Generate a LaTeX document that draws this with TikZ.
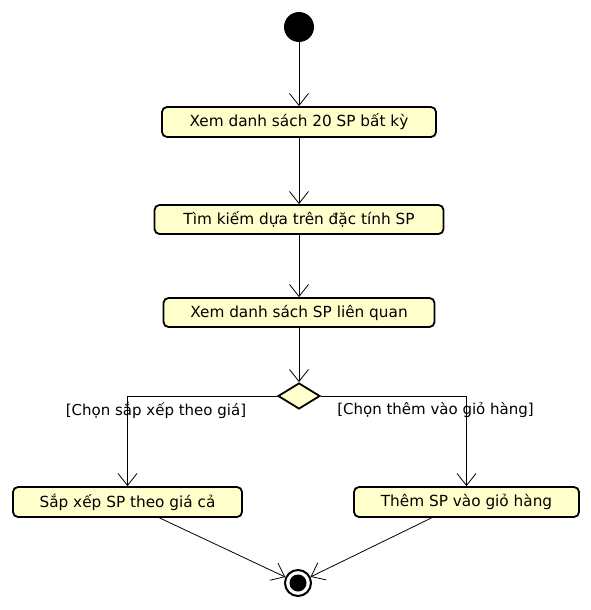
\documentclass[tikz,border=0pt]{standalone}
\usepackage{fontspec}
\setmainfont{DejaVu Sans}
\usetikzlibrary{shapes.geometric,arrows.meta}
\definecolor{actfill}{RGB}{255,255,204}
\tikzset{
  action/.style={draw, line width=1.8pt, rounded corners=5pt, fill=actfill,
    minimum height=30pt, inner sep=0pt, font=\fontsize{15.3}{17}\selectfont},
  flow/.style={line width=0.8pt, -{Straight Barb[length=12pt,width=19pt,line width=0.8pt]}},
  guard/.style={font=\fontsize{15}{17}\selectfont, inner sep=0pt}
}
\begin{document}
\begin{tikzpicture}[x=1pt,y=-1pt]
		\useasboundingbox (0,0) rectangle (590,610);
		
		% Start and end
		\node[circle, fill=black, minimum size=30pt, inner sep=0pt] (start) at (299,27) {};
		\node[circle, draw, line width=2pt, minimum size=26pt, inner sep=0pt] (final) at (298,583) {};
		\fill (final.center) circle (8.5);
		
		% Actions
		\node[action, minimum width=274pt] (listany) at (299,122) {Xem danh sách 20 SP bất kỳ};
		\node[action, minimum width=289pt, minimum height=29pt] (search) at (299,219.5) {Tìm kiếm dựa trên đặc tính SP};
		\node[action, minimum width=271pt, minimum height=29pt] (related) at (299,312.5) {Xem danh sách SP liên quan};
		\node[diamond, draw, line width=1.8pt, fill=actfill, minimum width=42pt, minimum height=26pt, inner sep=0pt] (choice) at (299,396) {};
		\node[action, minimum width=229pt] (sortprice) at (127.5,502) {Sắp xếp SP theo giá cả};
		\node[action, minimum width=225pt] (addcart) at (466.5,502) {Thêm SP vào giỏ hàng};
		
		% Flows
		\draw[flow] (start) -- (listany);
		\draw[flow] (listany) -- (search);
		\draw[flow] (search) -- (related);
		\draw[flow] (related) -- (choice);
		\draw[flow] (choice.west) -| (sortprice.north);
		\draw[flow] (choice.east) -| (addcart.north);
		\draw[flow] ([xshift=32pt]sortprice.south) -- (final);
		\draw[flow] ([xshift=-35pt]addcart.south) -- (final);
		
		% Guards
		\node[guard] (gsort) at (156,410) {[Chọn sắp xếp theo giá]};
		\node[guard] (gadd) at (435.5,410) {[Chọn thêm vào giỏ hàng]};
		
	\end{tikzpicture}
\end{document}
